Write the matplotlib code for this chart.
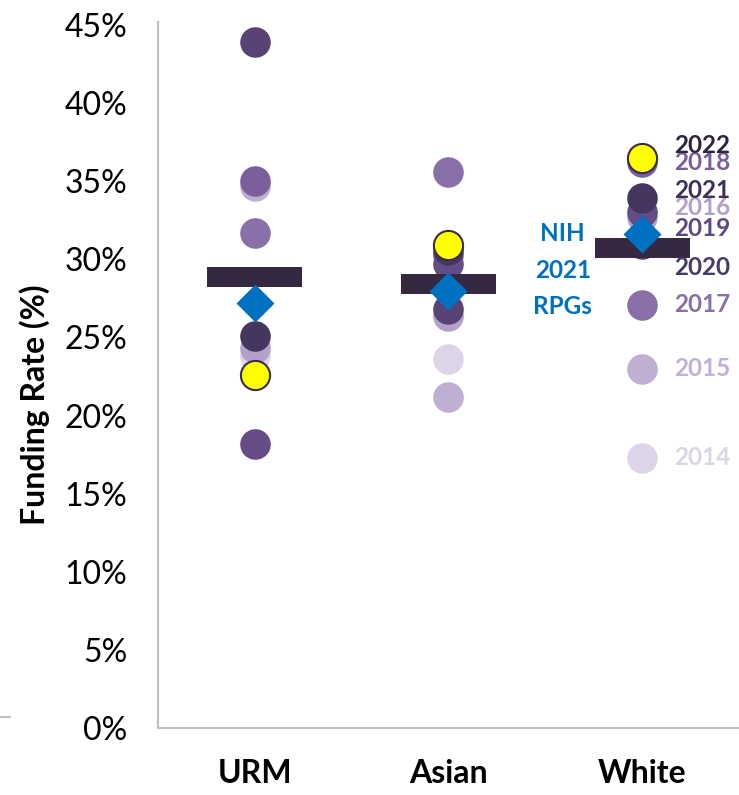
import matplotlib.pyplot as plt

# grupy i lata
grupy = ['URM', 'Asian', 'White']
lata = [2014, 2015, 2016, 2017, 2018, 2019, 2020, 2021, 2022]

# wskaźniki finansowania (%) dla kolejnych lat 2014-2022
urm = [23.8, 34.7, 24.3, 31.7, 35.0, 18.2, 43.9, 25.1, 22.6]
asian = [23.6, 21.2, 26.4, 35.6, 30.3, 29.7, 26.8, 30.6, 30.9]
white = [17.3, 23.0, 32.7, 27.1, 36.2, 33.0, 31.0, 33.9, 36.5]

# średnie (poziome belki) i NIH 2021 RPGs (romby)
srednie = [28.9, 28.4, 30.7]
nih_2021 = [27.2, 28.0, 31.6]

# kolory lat
kolory = ['#ddd4e8', '#bfb0d3', '#b3a1c9', '#8a70a8', '#7b5e9c',
          '#654c86', '#584276', '#45365f', '#ffff00']
kolory_tekst = ['#ddd4e8', '#c0b0d4', '#b3a1c9', '#8a70a8', '#7b5e9c',
                '#5f4a80', '#4a3a66', '#3d2f55', '#2e2440']

# pozycje etykiet lat przy kolumnie White
etykiety_y = [17.3, 23.0, 33.3, 27.1, 36.2, 32.0, 29.5, 34.4, 37.3]

plt.rcParams['font.family'] = ['Lato', 'DejaVu Sans']

fig = plt.figure(figsize=(7.39, 7.95), dpi=100)
ax = fig.add_axes([0.2138, 0.0843, 0.7862, 0.888])

dane = [urm, asian, white]
for g, wartosci in enumerate(dane):
    x = g + 0.5
    for i, v in enumerate(wartosci):
        if lata[i] == 2022:
            ax.plot(x, v, 'o', ms=21, color=kolory[i], mec='#3b2c4c', mew=1.5, zorder=3)
        else:
            ax.plot(x, v, 'o', ms=22, color=kolory[i], mec='none', zorder=2 + i * 0.01)
    # belka średniej
    ax.hlines(srednie[g], x - 0.245, x + 0.245, colors='#352840', lw=14.4, zorder=4)
    # romb NIH
    ax.plot(x, nih_2021[g], 'D', ms=19, color='#0070c0', mec='none', zorder=5)

# etykiety lat
for i, rok in enumerate(lata):
    ax.text(2.665, etykiety_y[i], str(rok), color=kolory_tekst[i], fontsize=17.5,
            fontweight='bold', va='center', ha='left', zorder=6)

# opis NIH
ax.text(2.09, 29.3, 'NIH\n2021\nRPGs', color='#0070c0', fontsize=17.5, fontweight='bold',
        ha='center', va='center', linespacing=1.7)

ax.set_xlim(0, 3)
ax.set_ylim(0, 45.19)
ax.set_xticks([0.5, 1.5, 2.5])
ax.set_xticklabels(grupy, fontsize=23, fontweight='bold')
ax.set_yticks(range(0, 50, 5))
ax.set_yticklabels([f'{t}%' for t in range(0, 50, 5)], fontsize=23)
ax.tick_params(length=0, pad=22)
ax.tick_params(axis='x', pad=22)
ax.set_ylabel('Funding Rate (%)', fontsize=23, fontweight='bold')
ax.yaxis.set_label_coords(-0.186, 0.4575)

for s in ['top', 'right']:
    ax.spines[s].set_visible(False)
for s in ['left', 'bottom']:
    ax.spines[s].set_color('#c0c0c0')
    ax.spines[s].set_linewidth(1.5)

# mała szara kreska przy lewej krawędzi
fig.add_artist(plt.Line2D([0, 10 / 739], [1 - 717 / 795, 1 - 717 / 795],
                          color='#c0c0c0', lw=1.5))

plt.savefig('out.png', dpi=100)
